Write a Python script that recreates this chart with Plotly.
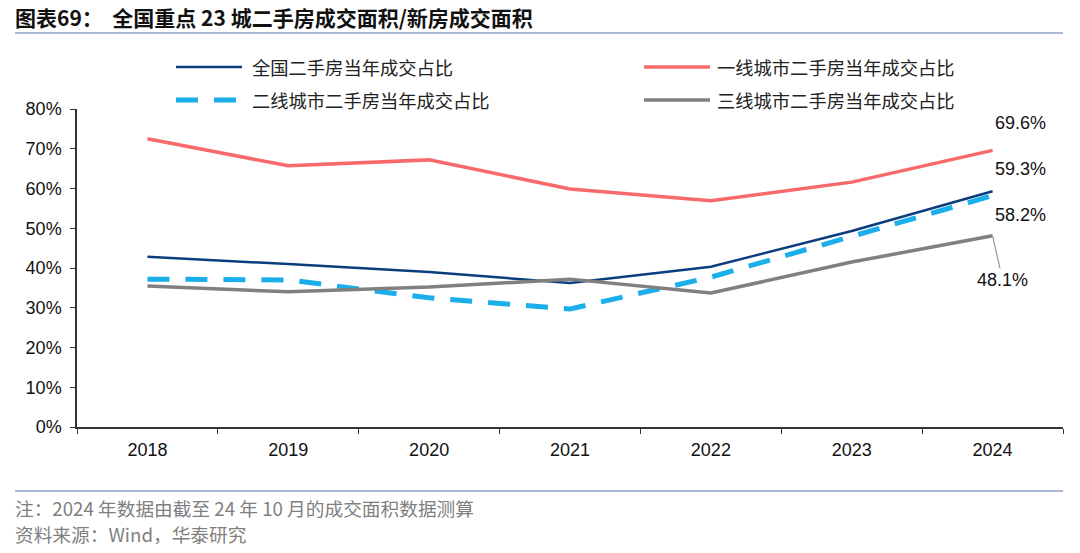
import plotly.graph_objects as go

years = ["2018", "2019", "2020", "2021", "2022", "2023", "2024"]
national = [42.8, 41.0, 39.0, 36.2, 40.3, 49.3, 59.3]
tier1 = [72.5, 65.7, 67.2, 59.9, 56.9, 61.6, 69.6]
tier2 = [37.2, 37.0, 32.5, 29.7, 37.7, 48.0, 58.2]
tier3 = [35.5, 34.0, 35.2, 37.2, 33.7, 41.5, 48.1]
names = ["全国二手房当年成交占比", "一线城市二手房当年成交占比", "二线城市二手房当年成交占比", "三线城市二手房当年成交占比"]
yticks = [0, 10, 20, 30, 40, 50, 60, 70, 80]

colors = ["#0B3D7E", "#F86A6A", "#1AAEEA", "#808080"]
widths = [2.5, 3.5, 5, 3.5]
dashes = ["solid", "solid", "22px,16px", "solid"]
series = [national, tier1, tier2, tier3]

fig = go.Figure()
for s, n, c, w, d in zip(series, names, colors, widths, dashes):
    fig.add_trace(go.Scatter(x=years, y=s, mode="lines", name=n,
                             line=dict(color=c, width=w, dash=d), showlegend=False))

W, H = 1080, 553
L, R, T, B = 77, 17, 109, 126
pw, ph = W - L - R, H - T - B

def px(x):
    return (x - L) / pw

def py(y):
    return (H - B - y) / ph

shapes = []
annotations = []
cjk = "Noto Sans CJK SC"
num = "Liberation Sans, Arial"
# legend
leg = [(176, 242, 250, 67), (644, 710, 715, 67), (176, 242, 250, 100), (644, 710, 715, 100)]
for (x0, x1, tx, yy), n, c, w, d in zip(leg, names, colors, widths, dashes):
    shapes.append(dict(type="line", xref="paper", yref="paper", x0=px(x0), x1=px(x1),
                       y0=py(yy), y1=py(yy), line=dict(color=c, width=w, dash=d)))
    annotations.append(dict(xref="paper", yref="paper", x=px(tx), y=py(yy), text=n,
                            showarrow=False, xanchor="left", yanchor="middle",
                            font=dict(family=cjk, size=18.3, color="#222222")))

# title
annotations.append(dict(xref="paper", yref="paper", x=px(13), y=py(17),
                        text="<b>图表69：  全国重点 23 城二手房成交面积/新房成交面积</b>",
                        showarrow=False, xanchor="left", yanchor="middle",
                        font=dict(family=cjk, size=21, color="#111111")))
shapes.append(dict(type="line", xref="paper", yref="paper", x0=px(15), x1=px(1063),
                   y0=py(33), y1=py(33), line=dict(color="#8EA6C4", width=1.5)))
shapes.append(dict(type="line", xref="paper", yref="paper", x0=px(15), x1=px(1063),
                   y0=py(491), y1=py(491), line=dict(color="#8EA6C4", width=1.5)))
annotations.append(dict(xref="paper", yref="paper", x=px(13), y=py(507),
                        text="注：2024 年数据由截至 24 年 10 月的成交面积数据测算",
                        showarrow=False, xanchor="left", yanchor="middle",
                        font=dict(family=cjk, size=18.7, color="#7F7F7F")))
annotations.append(dict(xref="paper", yref="paper", x=px(13), y=py(533),
                        text="资料来源：Wind，华泰研究",
                        showarrow=False, xanchor="left", yanchor="middle",
                        font=dict(family=cjk, size=18.7, color="#7F7F7F")))

# data labels
last = len(years) - 1
lab_font = dict(family=num, size=18, color="#111111")
annotations.append(dict(x=last, y=tier1[-1], text=f"{tier1[-1]:.1f}%", showarrow=False,
                        xshift=28, yshift=27, font=lab_font))
annotations.append(dict(x=last, y=national[-1], text=f"{national[-1]:.1f}%", showarrow=False,
                        xshift=28, yshift=22, font=lab_font))
annotations.append(dict(x=last, y=tier2[-1], text=f"{tier2[-1]:.1f}%", showarrow=False,
                        xshift=28, yshift=-19, font=lab_font))
annotations.append(dict(x=last, y=tier3[-1], text=f"{tier3[-1]:.1f}%", showarrow=True,
                        arrowhead=0, arrowwidth=1.2, arrowcolor="#999999", ax=10, ay=44,
                        standoff=0, font=lab_font))

fig.update_layout(
    width=W, height=H,
    margin=dict(l=L, r=R, t=T, b=B, pad=0),
    plot_bgcolor="white", paper_bgcolor="white",
    shapes=shapes, annotations=annotations,
    xaxis=dict(type="category", range=[-0.5, len(years) - 0.5], tickson="boundaries",
               ticks="outside", ticklen=5, automargin=False, tickangle=0, ticklabelstandoff=6,
               tickcolor="#333333", showline=True, linecolor="#333333", linewidth=1.5,
               showgrid=False, tickfont=dict(family=num, size=18, color="#111111")),
    yaxis=dict(range=[0, 80], tickvals=yticks, ticktext=[f"{v}%" for v in yticks],
               ticks="outside", ticklen=5, tickcolor="#333333", showline=True, automargin=False,
               ticklabelstandoff=5,
               linecolor="#333333", linewidth=1.5, showgrid=False, zeroline=False,
               tickfont=dict(family=num, size=18, color="#111111")),
)

fig.write_html("out.html", config={"displayModeBar": False},
               post_script="document.body.style.margin='0px';")
